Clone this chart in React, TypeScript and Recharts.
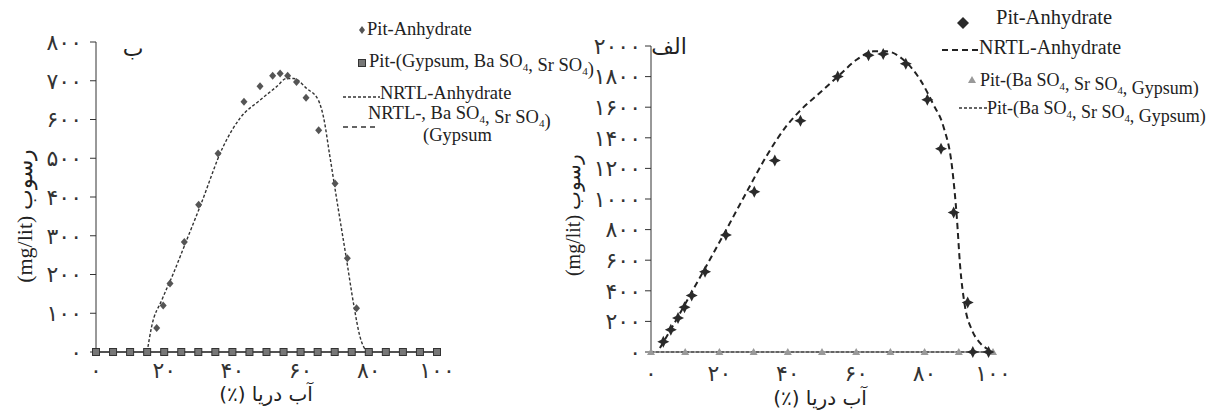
import { ComposedChart, Line, XAxis, YAxis } from "recharts";

// left panel (ب)
const leftXTicks = [0, 20, 40, 60, 80, 100];
const leftYTicks = [0, 100, 200, 300, 400, 500, 600, 700, 800];
const leftPitX = [17.8, 19.7, 21.7, 25.9, 30.1, 35.8, 43.4, 48.1, 51.8, 54.0, 56.2, 58.8, 61.6, 65.3, 70.1, 73.7, 76.4];
const leftPitY = [62, 120, 177, 284, 380, 512, 646, 686, 713, 719, 713, 697, 656, 572, 435, 242, 113];
const leftNrtlX = [15, 16.3, 19.3, 22.7, 26.6, 30.5, 37.3, 42.2, 48.1, 53.0, 55.9, 57.9, 61.8, 65.2, 66.7, 68.6, 71.1, 73.5, 75.5, 77.4, 79.4];
const leftNrtlY = [0, 65, 134, 203, 289, 375, 530, 603, 650, 685, 706, 706, 680, 650, 607, 504, 366, 237, 126, 40, 0];
const leftGypX = [0, 5, 10, 15, 20, 25, 30, 35, 40, 45, 50, 55, 60, 65, 70, 75, 80, 85, 90, 95, 100];
const leftGypY = [0, 0, 0, 0, 0, 0, 0, 0, 0, 0, 0, 0, 0, 0, 0, 0, 0, 0, 0, 0, 0];

// right panel (الف)
const rightXTicks = [0, 20, 40, 60, 80, 100];
const rightYTicks = [0, 200, 400, 600, 800, 1000, 1200, 1400, 1600, 1800, 2000];
const rightPitX = [3.6, 5.8, 7.9, 9.8, 11.9, 15.8, 21.9, 30.2, 36.2, 43.7, 54.6, 63.6, 67.9, 74.5, 80.8, 84.8, 88.5, 92.6, 94.1, 98.7];
const rightPitY = [67, 146, 222, 292, 370, 525, 765, 1048, 1252, 1512, 1800, 1939, 1948, 1884, 1649, 1329, 912, 324, 0, 0];
const rightNrtlX = [2.6, 6.3, 11.2, 16.1, 22.0, 27.8, 33.7, 39.5, 43.4, 49.3, 55.2, 60.1, 65.0, 68.9, 73.8, 78.7, 82.6, 85.5, 88.0, 89.4, 90.4, 91.8, 93.8, 96.2, 98.7, 99.5];
const rightNrtlY = [26, 167, 363, 559, 799, 1039, 1278, 1474, 1573, 1693, 1812, 1910, 1965, 1965, 1910, 1780, 1616, 1474, 1213, 886, 559, 298, 146, 59, 15, 3];
const rightBaX = [0, 10, 20, 30, 40, 50, 60, 70, 80, 90, 100];
const rightBaY = [0, 0, 0, 0, 0, 0, 0, 0, 0, 0, 0];

const zip = (xs: number[], ys: number[]) => xs.map((x, i) => ({ x, y: ys[i] }));
const fa = (n: number) => String(n).replace(/\d/g, (d) => "۰۱۲۳۴۵۶۷۸۹"[+d]);

const tickFont = { fill: "#333", fontSize: 22, fontFamily: "DejaVu Sans" };
const serif = { fontFamily: "'Liberation Serif', 'DejaVu Serif', serif" };
const arabic = { fontFamily: "'DejaVu Sans', sans-serif" };

const SmallDiamond = (p: any) =>
  p.cx == null ? null : (
    <polygon points={`${p.cx},${p.cy - 4} ${p.cx + 3.5},${p.cy} ${p.cx},${p.cy + 4} ${p.cx - 3.5},${p.cy}`} fill="#555" />
  );
const Square = (p: any) =>
  p.cx == null ? null : <rect x={p.cx - 3.5} y={p.cy - 3.5} width={7} height={7} fill="#777" stroke="#333" strokeWidth={1} />;
const Star = (p: any) =>
  p.cx == null ? null : (
    <polygon
      points={`${p.cx},${p.cy - 6} ${p.cx + 2},${p.cy - 2} ${p.cx + 6},${p.cy} ${p.cx + 2},${p.cy + 2} ${p.cx},${p.cy + 6} ${p.cx - 2},${p.cy + 2} ${p.cx - 6},${p.cy} ${p.cx - 2},${p.cy - 2}`}
      fill="#2a2a2a"
    />
  );
const Tri = (p: any) =>
  p.cx == null ? null : <polygon points={`${p.cx},${p.cy - 4} ${p.cx + 4},${p.cy + 3} ${p.cx - 4},${p.cy + 3}`} fill="#999" />;

const Sub = ({ children }: { children: string }) => (
  <tspan fontSize="0.6em" dy={4}>
    {children}
  </tspan>
);
const Up = () => <tspan dy={-4}></tspan>;

export default function App() {
  return (
    <div style={{ position: "absolute", left: 0, top: 0, width: 1215, height: 417, background: "#fff" }}>
      <div style={{ position: "absolute", left: 0, top: 0 }}>
        <ComposedChart width={460} height={417} margin={{ top: 42, right: 23, left: 0, bottom: 25 }}>
          <XAxis
            dataKey="x"
            type="number"
            domain={[0, 100]}
            ticks={leftXTicks}
            tickFormatter={fa}
            interval={0}
            height={40}
            tickLine={false}
            tickMargin={4}
            stroke="#333"
            tick={tickFont}
          />
          <YAxis
            dataKey="y"
            type="number"
            domain={[0, 800]}
            ticks={leftYTicks}
            tickFormatter={fa}
            interval={0}
            width={96}
            tickSize={6}
            tickMargin={8}
            stroke="#333"
            tick={tickFont}
          />
          <Line data={zip(leftGypX, leftGypY)} dataKey="y" stroke="#444" strokeWidth={1.5} dot={<Square />} activeDot={false} isAnimationActive={false} />
          <Line data={zip(leftNrtlX, leftNrtlY)} dataKey="y" type="monotone" stroke="#333" strokeWidth={1.4} strokeDasharray="3 2" dot={false} activeDot={false} isAnimationActive={false} />
          <Line data={zip(leftPitX, leftPitY)} dataKey="y" stroke="none" dot={<SmallDiamond />} activeDot={false} isAnimationActive={false} />
        </ComposedChart>
      </div>
      <div style={{ position: "absolute", left: 560, top: 0 }}>
        <ComposedChart width={460} height={417} margin={{ top: 46, right: 27, left: 0, bottom: 25 }}>
          <XAxis
            dataKey="x"
            type="number"
            domain={[0, 100]}
            ticks={rightXTicks}
            tickFormatter={fa}
            interval={0}
            height={40}
            tickLine={false}
            tickMargin={7}
            stroke="#333"
            tick={tickFont}
          />
          <YAxis
            dataKey="y"
            type="number"
            domain={[0, 2000]}
            ticks={rightYTicks}
            tickFormatter={fa}
            interval={0}
            width={91}
            tickSize={6}
            tickMargin={4}
            stroke="#333"
            tick={tickFont}
          />
          <Line data={zip(rightBaX, rightBaY)} dataKey="y" stroke="#333" strokeWidth={1.2} strokeDasharray="3 2" dot={<Tri />} activeDot={false} isAnimationActive={false} />
          <Line data={zip(rightNrtlX, rightNrtlY)} dataKey="y" type="monotone" stroke="#222" strokeWidth={2} strokeDasharray="6 4" dot={false} activeDot={false} isAnimationActive={false} />
          <Line data={zip(rightPitX, rightPitY)} dataKey="y" stroke="none" dot={<Star />} activeDot={false} isAnimationActive={false} />
        </ComposedChart>
      </div>
      <svg width={1215} height={417} style={{ position: "absolute", left: 0, top: 0, pointerEvents: "none" }}>
        <g fill="#222">
          {/* left panel labels */}
          <text x={133} y={56} fontSize={22} textAnchor="middle" style={arabic}>ب</text>
          <text transform="translate(32,216) rotate(-90)" fontSize={22} textAnchor="middle" style={serif}>(mg/lit) رسوب</text>
          <text x={266} y={401} fontSize={20} textAnchor="middle" direction="rtl" style={arabic}>آب دریا (٪)</text>
          {/* left legend */}
          <polygon points="362,26 365,30 362,34 359,30" fill="#555" />
          <text x={367} y={35} fontSize={18.5} style={serif}>Pit-Anhydrate</text>
          <rect x={358.5} y={59.5} width={7} height={7} fill="#777" stroke="#333" />
          <text x={369} y={67} fontSize={18.5} style={serif}>
            Pit-(Gypsum, Ba SO<Sub>4</Sub><Up />, Sr SO<Sub>4</Sub><Up />)
          </text>
          <line x1={343} y1={97} x2={380} y2={97} stroke="#333" strokeWidth={1.4} strokeDasharray="3 2" />
          <text x={380} y={99} fontSize={18.5} style={serif}>NRTL-Anhydrate</text>
          <text x={368} y={119} fontSize={18.5} style={serif}>
            NRTL-, Ba SO<Sub>4</Sub><Up />, Sr SO<Sub>4</Sub><Up />)
          </text>
          <line x1={343} y1={127} x2={378} y2={127} stroke="#333" strokeWidth={1.4} strokeDasharray="5 4" />
          <text x={423} y={141} fontSize={18.5} style={serif}>(Gypsum</text>
          {/* right panel labels */}
          <text x={669} y={54} fontSize={22} textAnchor="middle" direction="rtl" style={arabic}>الف</text>
          <text transform="translate(580,215) rotate(-90)" fontSize={20} textAnchor="middle" style={serif}>(mg/lit) رسوب</text>
          <text x={820} y={405} fontSize={20} textAnchor="middle" direction="rtl" style={arabic}>آب دریا (٪)</text>
          {/* right legend */}
          <polygon points="963,17 969,23 963,29 957,23" fill="#2a2a2a" />
          <text x={996} y={24} fontSize={20.5} style={serif}>Pit-Anhydrate</text>
          <line x1={942} y1={50} x2={978} y2={50} stroke="#222" strokeWidth={2} strokeDasharray="6 4" />
          <text x={979} y={54} fontSize={20} style={serif}>NRTL-Anhydrate</text>
          <polygon points="972,76 976,83 968,83" fill="#999" />
          <text x={980} y={86} fontSize={18} style={serif}>
            Pit-(Ba SO<Sub>4</Sub><Up />, Sr SO<Sub>4</Sub><Up />, Gypsum)
          </text>
          <line x1={959} y1={108} x2={987} y2={108} stroke="#333" strokeWidth={1.4} strokeDasharray="3 2" />
          <text x={987} y={114} fontSize={18} style={serif}>
            Pit-(Ba SO<Sub>4</Sub><Up />, Sr SO<Sub>4</Sub><Up />, Gypsum)
          </text>
        </g>
      </svg>
    </div>
  );
}
